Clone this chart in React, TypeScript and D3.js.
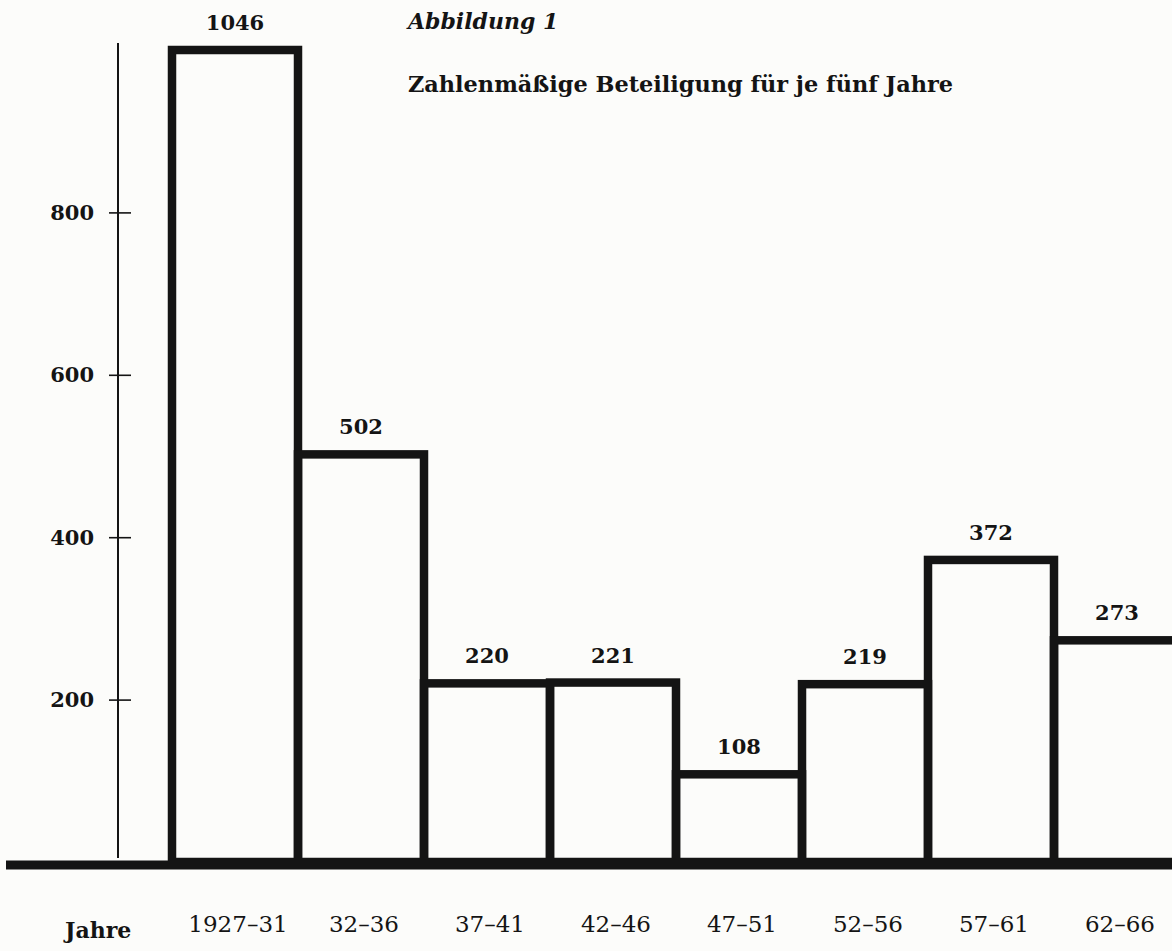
import React, { useRef, useEffect } from "react";
import * as d3 from "d3";

// Fünfjahresabschnitte und Teilnehmerzahlen
const periods = ["1927–31", "32–36", "37–41", "42–46", "47–51", "52–56", "57–61", "62–66"];
const counts = [1046, 502, 220, 221, 108, 219, 372, 273];
const yTicks = [200, 400, 600, 800];

const WIDTH = 1172;
const HEIGHT = 951;
const INK = "#141414";
const FONT = "'DejaVu Serif', 'Liberation Serif', serif";

const App: React.FC = () => {
  const gRef = useRef<SVGGElement | null>(null);

  useEffect(() => {
    if (!gRef.current) return;
    const g = d3.select(gRef.current);
    g.selectAll("*").remove();

    const x = d3.scaleBand<string>().domain(periods).range([172, 1180]).padding(0);

    // first bar runs off the top, so the scale is clamped like the printed figure
    const y = d3.scaleLinear().domain([0, 1000]).range([862, 50]).clamp(true);

    const data = periods.map((p, i) => ({ period: p, value: counts[i] }));

    // y axis
    const axis = g
      .append("g")
      .attr("class", "y-axis")
      .attr("transform", "translate(118,0)")
      .call(d3.axisLeft(y).tickValues(yTicks).tickSize(10).tickPadding(14));
    axis.select(".domain").remove();
    axis.selectAll(".tick line").attr("x1", -9).attr("x2", 13).attr("stroke", INK).attr("stroke-width", 1.6);
    axis
      .selectAll(".tick text")
      .attr("fill", INK)
      .attr("font-family", FONT)
      .attr("font-weight", "bold")
      .attr("font-size", 21)
      .attr("dy", "0.34em");
    axis
      .append("line")
      .attr("x1", 0)
      .attr("x2", 0)
      .attr("y1", y(1000) - 7)
      .attr("y2", y(0) - 4)
      .attr("stroke", INK)
      .attr("stroke-width", 2);

    // bars
    g.selectAll(".bar")
      .data(data)
      .join("rect")
      .attr("class", "bar")
      .attr("x", (d) => x(d.period)!)
      .attr("y", (d) => y(d.value))
      .attr("width", x.bandwidth())
      .attr("height", (d) => y(0) - y(d.value))
      .attr("fill", "none")
      .attr("stroke", INK)
      .attr("stroke-width", 8.5)
      .attr("stroke-linejoin", "miter");

    // baseline
    g.append("line")
      .attr("x1", 6)
      .attr("x2", WIDTH)
      .attr("y1", y(0) + 3)
      .attr("y2", y(0) + 3)
      .attr("stroke", INK)
      .attr("stroke-width", 9);

    // value labels
    g.selectAll(".value")
      .data(data)
      .join("text")
      .attr("class", "value")
      .attr("x", (d) => x(d.period)! + x.bandwidth() / 2)
      .attr("y", (d) => y(d.value) - 20)
      .attr("text-anchor", "middle")
      .attr("fill", INK)
      .attr("font-family", FONT)
      .attr("font-weight", "bold")
      .attr("font-size", 21)
      .text((d) => String(d.value));

    // x labels
    g.selectAll(".period")
      .data(data)
      .join("text")
      .attr("class", "period")
      .attr("x", (d) => x(d.period)! + x.bandwidth() / 2 + 3)
      .attr("y", 932)
      .attr("text-anchor", "middle")
      .attr("fill", INK)
      .attr("font-family", FONT)
      .attr("font-size", 23)
      .text((d) => d.period);

    g.append("text")
      .attr("x", 65)
      .attr("y", 938)
      .attr("fill", INK)
      .attr("font-family", FONT)
      .attr("font-weight", "bold")
      .attr("font-size", 22)
      .text("Jahre");

    // titles
    g.append("text")
      .attr("x", 408)
      .attr("y", 29)
      .attr("fill", INK)
      .attr("font-family", FONT)
      .attr("font-weight", "bold")
      .attr("font-style", "italic")
      .attr("font-size", 22)
      .text("Abbildung 1");

    g.append("text")
      .attr("x", 408)
      .attr("y", 92)
      .attr("fill", INK)
      .attr("font-family", FONT)
      .attr("font-weight", "bold")
      .attr("font-size", 22)
      .attr("textLength", 545)
      .attr("lengthAdjust", "spacingAndGlyphs")
      .text("Zahlenmäßige Beteiligung für je fünf Jahre");
  }, []);

  return (
    <svg
      width={WIDTH}
      height={HEIGHT}
      style={{ position: "absolute", left: 0, top: 0, background: "#fcfcfa" }}
    >
      <g ref={gRef} />
    </svg>
  );
};

export default App;
